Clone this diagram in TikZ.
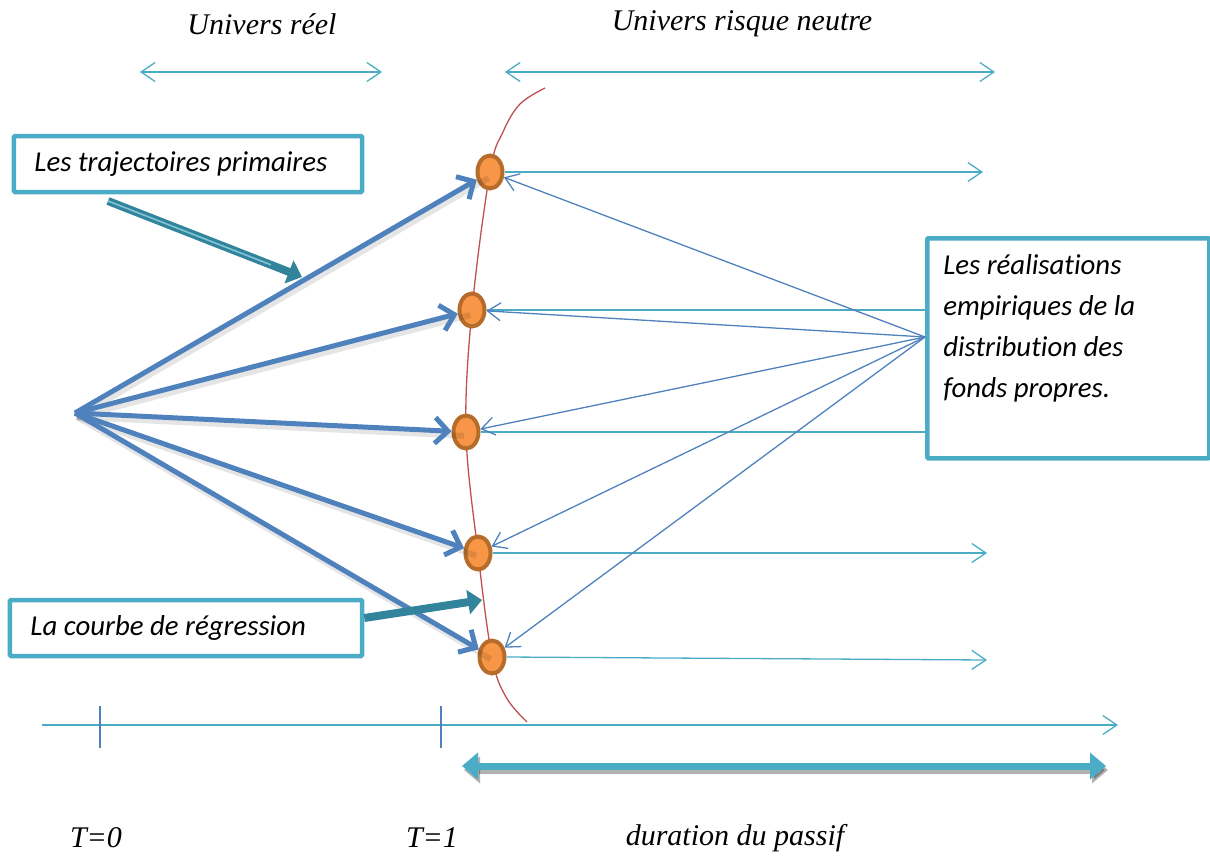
\documentclass[tikz,border=0pt]{standalone}
\usepackage{fontspec}
\setmainfont{Liberation Serif}
\newfontfamily\calfont{Carlito}[Ligatures={NoCommon}]
\usetikzlibrary{arrows.meta,shapes.geometric,calc}

\definecolor{acyan}{HTML}{4BACC6}
\definecolor{ablue}{HTML}{4F81BD}
\definecolor{ateal}{HTML}{31849B}
\definecolor{ared}{HTML}{C0504D}
\definecolor{aorange}{HTML}{F79646}
\definecolor{abrown}{HTML}{B66D2C}

\tikzset{
  thinarrow/.style={draw=acyan, line width=1.3bp, -{Straight Barb[length=14bp,width=19bp]}},
  thinboth/.style={draw=acyan, line width=1.3bp,
    {Straight Barb[length=14bp,width=19bp]}-{Straight Barb[length=14bp,width=19bp]}},
  thinline/.style={draw=acyan, line width=1.3bp},
  fanarrow/.style={draw=ablue, line width=1.3bp, -{Straight Barb[length=13bp,width=18bp]}},
  trajarrow/.style={draw=ablue, line width=5bp, -{Straight Barb[length=13bp,width=26bp]}},
  trajshadow/.style={draw=black, opacity=0.10, line width=6bp, shorten >=4bp},
  callout/.style={draw=ateal, line width=8bp, -{Triangle[length=14bp,width=24bp]}},
  calloutcore/.style={draw=acyan!70!white, line width=1.6bp},
  pointnode/.style={ellipse, draw=abrown, fill=aorange, line width=4bp,
    minimum width=25bp, minimum height=33bp, inner sep=0pt},
  labelbox/.style={draw=acyan, line width=4.5bp, fill=white, rounded corners=1bp,
    font=\calfont\itshape\fontsize{28.8bp}{34bp}\selectfont, inner sep=0pt},
  serlabel/.style={font=\itshape\fontsize{30bp}{34bp}\selectfont},
  tick/.style={draw=ablue, line width=1.3bp}
}

\begin{document}
\begin{tikzpicture}[x=1bp,y=-1bp]
\useasboundingbox (0,0) rectangle (1210,859);

% headings
\node[serlabel] (ureel) at (262,24) {Univers réel};
\node[serlabel] (urn) at (742,24) {Univers risque neutre};
\coordinate (ra) at (140,72); \coordinate (rb) at (382,72);
\coordinate (na) at (505,72); \coordinate (nb) at (995,72);
\draw[thinboth] (ra) -- (rb);
\draw[thinboth] (na) -- (nb);

% regression curve
\draw[ared, line width=1.3bp] plot[smooth, tension=0.6] coordinates
  {(545,88) (520,104) (503,132) (490,172) (472,310) (466,432) (478,553) (492,657) (506,697) (527,722)};

% time axis
\coordinate (ax0) at (42,725); \coordinate (ax1) at (1118,725);
\draw[thinarrow] (ax0) -- (ax1);
\coordinate (t0a) at (100,706); \coordinate (t0b) at (100,748);
\coordinate (t1a) at (441,706); \coordinate (t1b) at (441,748);
\draw[tick] (t0a) -- (t0b);
\draw[tick] (t1a) -- (t1b);

% liability duration
\coordinate (da) at (462,766); \coordinate (db) at (1106,766);
\draw[draw=black, opacity=0.3, line width=7bp, {Triangle[length=16bp,width=26bp]}-{Triangle[length=16bp,width=26bp]}]
  ($(da)+(2,4)$) -- ($(db)+(2,4)$);
\draw[draw=acyan, line width=7bp, {Triangle[length=16bp,width=26bp]}-{Triangle[length=16bp,width=26bp]}] (da) -- (db);

% points on the curve
\node[pointnode] (n1) at (490,172) {};
\node[pointnode] (n2) at (472,310) {};
\node[pointnode] (n3) at (466,432) {};
\node[pointnode] (n4) at (478,553) {};
\node[pointnode] (n5) at (492,657) {};

% box of empirical realisations
\node[labelbox, anchor=north west, minimum width=282bp, minimum height=220bp] (b3) at (925,236)
  {\parbox[c][212bp][t]{250bp}{\raggedright\vspace*{12bp}\setlength{\baselineskip}{41bp}Les réalisations\\empiriques de la\\distribution des\\fonds propres.}};

% risk-neutral paths
\coordinate (e1) at (983,172);
\coordinate (e4) at (987,553);
\coordinate (e5) at (987,660);
\draw[thinarrow] (n1.east) -- (e1);
\draw[thinline] (n2.east) -- (n2.east -| b3.west);
\draw[thinline] (n3.east) -- (n3.east -| b3.west);
\draw[thinarrow] (n4.east) -- (e4);
\draw[thinarrow] (n5.east) -- (e5);

% fan back to the points
\coordinate (fan) at (925,337);
\foreach \n in {n1,n2,n3,n4,n5} \draw[fanarrow] (fan) -- (\n);

% primary trajectories
\coordinate (src) at (75,413);
\foreach \n in {n1,n2,n3,n4,n5} \draw[trajshadow] ($(src)+(2,4)$) -- ($(\n)+(2,4)$);
\foreach \n in {n1,n2,n3,n4,n5} \draw[trajarrow] (src) -- (\n);

% labelled boxes
\node[labelbox, minimum width=348bp, minimum height=56bp] (b1) at (188,164) {\makebox[307bp][l]{Les trajectoires primaires}};
\node[labelbox, minimum width=352bp, minimum height=56bp] (b2) at (186,628) {\makebox[311bp][l]{La courbe de régression}};

% callouts
\coordinate (c1a) at (108,201); \coordinate (c1b) at (302,277);
\draw[callout] (c1a) -- (c1b);
\draw[calloutcore] (c1a) -- ($(c1a)!0.84!(c1b)$);
\coordinate (c2a) at ($(b2.east)+(0,-10)$); \coordinate (c2b) at (482,600);
\draw[callout] (c2a) -- (c2b);

% time labels
\node[serlabel] (lt0) at (96,838) {T=0};
\node[serlabel] (lt1) at (432,838) {T=1};
\node[serlabel] (ldur) at (735,838) {duration du passif};
\end{tikzpicture}
\end{document}
